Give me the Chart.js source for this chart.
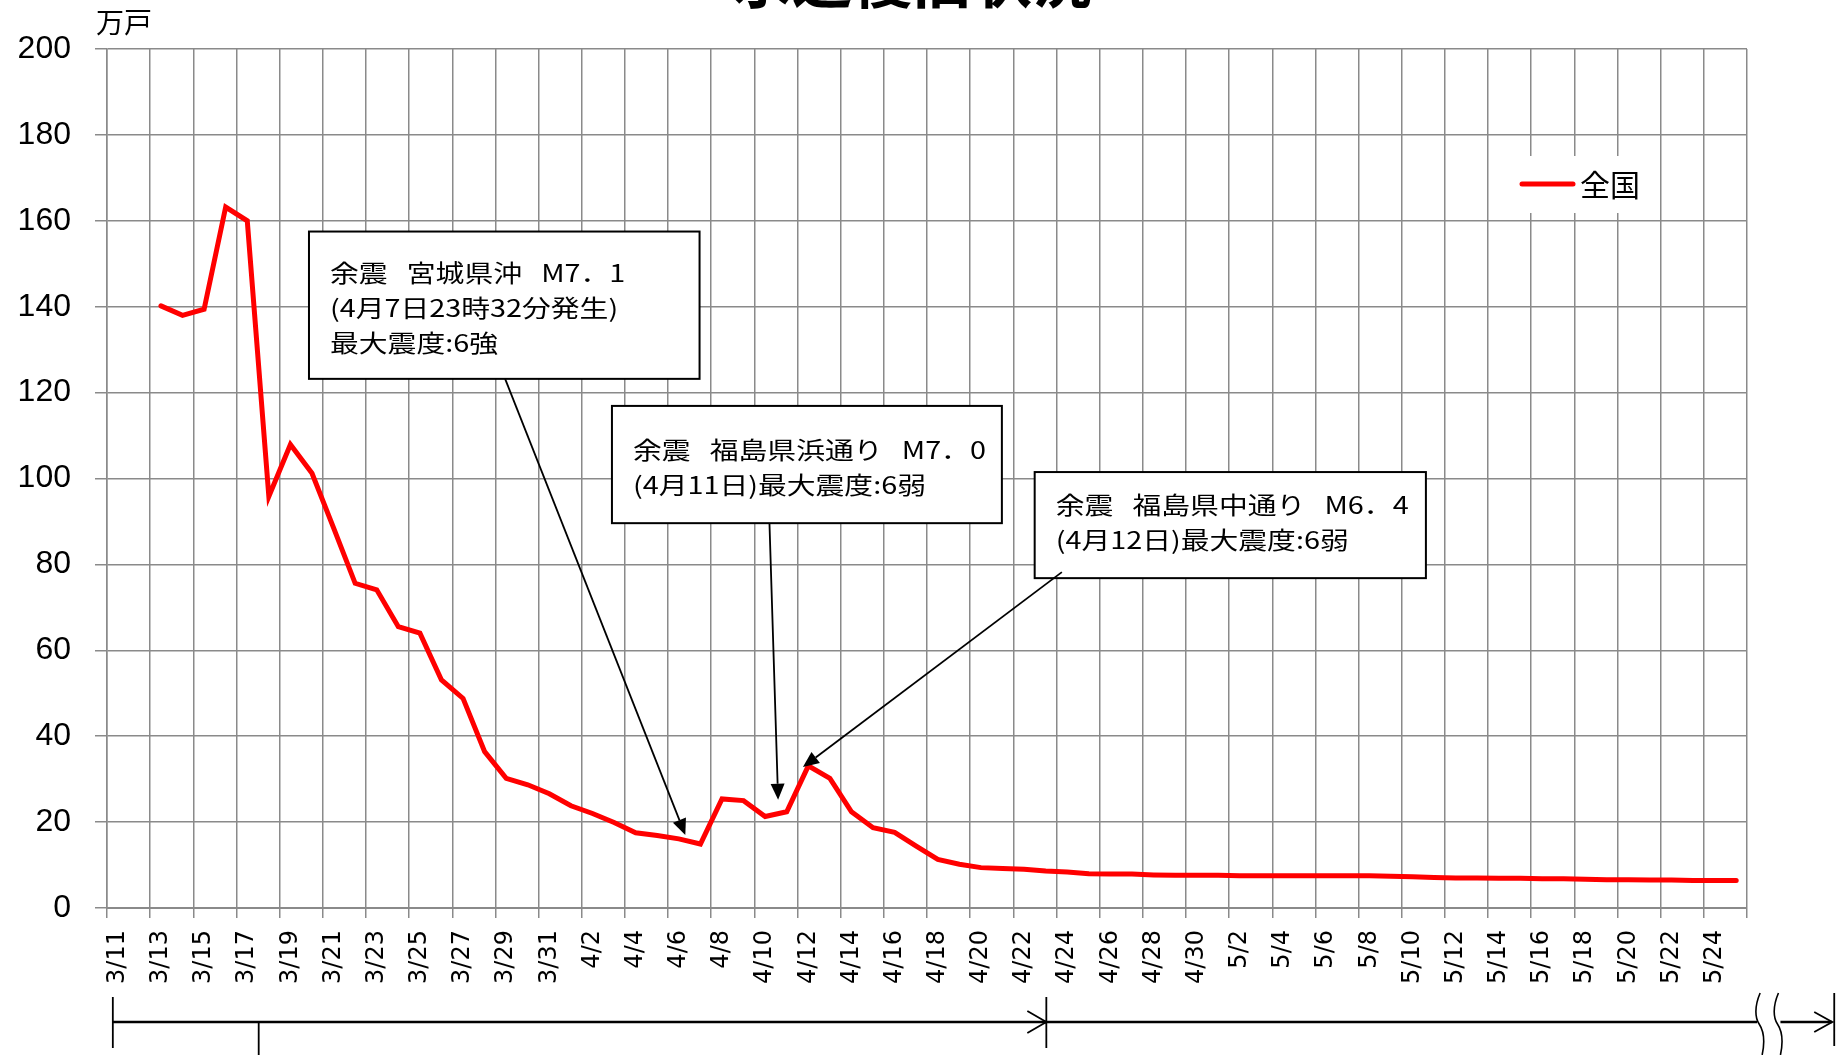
<!DOCTYPE html>
<html lang="ja">
<head>
<meta charset="utf-8">
<title>水道復旧状況</title>
<script src="https://cdn.jsdelivr.net/npm/chart.js@4/dist/chart.umd.min.js"></script>
<style>
  html, body { margin: 0; padding: 0; background: #ffffff; }
  #wrap { width: 1842px; height: 1055px; position: relative; }
</style>
</head>
<body>
<div id="wrap"><canvas id="chart" width="1842" height="1055"></canvas></div>
<script>
// ---- data ----
const titleText = '水道復旧状況';
const unitLabel = '万戸';
const seriesLabel = '全国';

const dates = [
  '3/11','3/12','3/13','3/14','3/15','3/16','3/17','3/18','3/19','3/20',
  '3/21','3/22','3/23','3/24','3/25','3/26','3/27','3/28','3/29','3/30','3/31',
  '4/1','4/2','4/3','4/4','4/5','4/6','4/7','4/8','4/9','4/10',
  '4/11','4/12','4/13','4/14','4/15','4/16','4/17','4/18','4/19','4/20',
  '4/21','4/22','4/23','4/24','4/25','4/26','4/27','4/28','4/29','4/30',
  '5/1','5/2','5/3','5/4','5/5','5/6','5/7','5/8','5/9','5/10',
  '5/11','5/12','5/13','5/14','5/15','5/16','5/17','5/18','5/19','5/20',
  '5/21','5/22','5/23','5/24','5/25'
];

// 断水戸数（万戸）
const households = [
  null, null, 140.2, 138.0, 139.4, 163.2, 160.0, 95.8, 107.9, 101.2,
  88.5, 75.6, 74.1, 65.5, 64.0, 53.1, 48.8, 36.4, 30.2, 28.7, 26.6,
  23.8, 22.0, 19.9, 17.5, 16.9, 16.1, 14.9, 25.4, 25.0, 21.3,
  22.4, 33.1, 30.2, 22.4, 18.7, 17.6, 14.4, 11.3, 10.2, 9.4,
  9.2, 9.0, 8.6, 8.4, 8.0, 7.9, 7.9, 7.7, 7.6, 7.6,
  7.6, 7.5, 7.5, 7.5, 7.5, 7.5, 7.5, 7.5, 7.4, 7.3,
  7.1, 7.0, 7.0, 6.9, 6.9, 6.8, 6.8, 6.7, 6.6, 6.6,
  6.5, 6.5, 6.4, 6.4, 6.4
];

const yMin = 0;
const yMax = 200;
const yStep = 20;

// 余震の注記テキスト（語の間は約2/3字分の空き）
const GAP = '\u2002\u2006';
const aftershockTexts = [
  ['余震' + GAP + '宮城県沖' + GAP + 'M7．1', '(4月7日23時32分発生)', '最大震度:6強'],
  ['余震' + GAP + '福島県浜通り' + GAP + 'M7．0', '(4月11日)最大震度:6弱'],
  ['余震' + GAP + '福島県中通り' + GAP + 'M6．4', '(4月12日)最大震度:6弱']
];

// ---- layout of the callouts, in axis units (category index, 万戸) ----
const calloutLayout = [
  { box: [8.86, 157.5, 26.96, 123.2], firstLine: 41, from: [17.95, 123.2], to: [26.3, 17.0] },
  { box: [22.9, 116.9, 40.97, 89.6], firstLine: 44, from: [30.2, 89.6], to: [30.6, 25.2] },
  { box: [42.49, 101.5, 60.62, 76.8], firstLine: 33, from: [43.75, 78.2], to: [31.75, 32.8] }
];

const GRID = '#8a8a8a';
const RED = '#ff0000';
const JP_FONT = '"Noto Sans CJK JP", "Noto Sans CJK SC", sans-serif';

function drawArrowLine(ctx, x1, y1, x2, y2) {
  const ang = Math.atan2(y2 - y1, x2 - x1);
  const headLen = 16, headHalf = 7;
  const bx = x2 - headLen * Math.cos(ang);
  const by = y2 - headLen * Math.sin(ang);
  ctx.beginPath();
  ctx.moveTo(x1, y1);
  ctx.lineTo(bx, by);
  ctx.strokeStyle = '#000';
  ctx.lineWidth = 1.8;
  ctx.stroke();
  ctx.beginPath();
  ctx.moveTo(x2, y2);
  ctx.lineTo(bx + headHalf * Math.sin(ang), by - headHalf * Math.cos(ang));
  ctx.lineTo(bx - headHalf * Math.sin(ang), by + headHalf * Math.cos(ang));
  ctx.closePath();
  ctx.fillStyle = '#000';
  ctx.fill();
}

function drawBreakCurve(ctx, x, top, bottom) {
  const mid = (top + bottom) / 2;
  ctx.beginPath();
  ctx.moveTo(x + 1, top);
  ctx.bezierCurveTo(x - 5, top + 14, x - 4, mid - 6, x, mid);
  ctx.bezierCurveTo(x + 4, mid + 6, x + 6, bottom - 14, x + 3, bottom);
  ctx.stroke();
}

const overlayPlugin = {
  id: 'overlay',
  afterDraw(chart) {
    const ctx = chart.ctx;
    const xs = chart.scales.x;
    const ys = chart.scales.y;
    const area = chart.chartArea;

    ctx.save();

    // title (top edge of the canvas)
    ctx.fillStyle = '#000';
    ctx.font = 'bold 60px ' + JP_FONT;
    ctx.textAlign = 'center';
    ctx.textBaseline = 'alphabetic';
    ctx.fillText(titleText, 912, 3);

    // unit label
    ctx.font = '28px ' + JP_FONT;
    ctx.textAlign = 'left';
    ctx.textBaseline = 'middle';
    ctx.fillText(unitLabel, area.left - 11, 22);

    // legend
    const ds = chart.data.datasets[0];
    ctx.fillStyle = '#fff';
    ctx.fillRect(1493, 156, 166, 57);
    ctx.beginPath();
    ctx.moveTo(1522, 184);
    ctx.lineTo(1573, 184);
    ctx.strokeStyle = ds.borderColor;
    ctx.lineWidth = 5;
    ctx.lineCap = 'round';
    ctx.stroke();
    ctx.lineCap = 'butt';
    ctx.fillStyle = '#000';
    ctx.font = '30px ' + JP_FONT;
    ctx.textBaseline = 'middle';
    ctx.fillText(ds.label, 1580, 185);

    // callouts
    calloutLayout.forEach((c, i) => {
      const l = xs.getPixelForValue(c.box[0]);
      const t = ys.getPixelForValue(c.box[1]);
      const r = xs.getPixelForValue(c.box[2]);
      const b = ys.getPixelForValue(c.box[3]);
      ctx.fillStyle = '#fff';
      ctx.fillRect(l, t, r - l, b - t);
      ctx.strokeStyle = '#000';
      ctx.lineWidth = 2;
      ctx.strokeRect(l, t, r - l, b - t);
      ctx.fillStyle = '#000';
      ctx.font = '24px ' + JP_FONT;
      ctx.textAlign = 'left';
      ctx.textBaseline = 'middle';
      aftershockTexts[i].forEach((line, k) => {
        ctx.save();
        ctx.translate(l + 21, t + c.firstLine + k * 35);
        ctx.scale(1.2, 1);
        ctx.fillText(line, 0, 0);
        ctx.restore();
      });
    });
    calloutLayout.forEach(c => {
      drawArrowLine(ctx,
        xs.getPixelForValue(c.from[0]), ys.getPixelForValue(c.from[1]),
        xs.getPixelForValue(c.to[0]), ys.getPixelForValue(c.to[1]));
    });

    // period brackets under the axis
    const base = area.bottom;
    const lineY = base + 114;
    const px = v => xs.getPixelForValue(v);
    const xStart = px(-0.23), xMid = px(6.53), xArrow = px(43.03);
    const xBreakA = px(75.97), xBreakB = px(77.05), xEnd = px(79.45);
    ctx.strokeStyle = '#000';
    ctx.lineWidth = 2.5;
    ctx.beginPath();
    ctx.moveTo(xStart, lineY); ctx.lineTo(xBreakA, lineY);
    ctx.moveTo(xBreakB, lineY); ctx.lineTo(xEnd, lineY);
    ctx.stroke();
    ctx.lineWidth = 1.8;
    ctx.beginPath();
    ctx.moveTo(xStart, base + 89); ctx.lineTo(xStart, base + 140);
    ctx.moveTo(xMid, lineY); ctx.lineTo(xMid, base + 147);
    ctx.moveTo(xArrow, base + 89); ctx.lineTo(xArrow, base + 140);
    ctx.moveTo(xEnd + 2, base + 85); ctx.lineTo(xEnd + 2, base + 138);
    // open arrowheads
    ctx.moveTo(xArrow - 19, lineY - 11); ctx.lineTo(xArrow, lineY); ctx.lineTo(xArrow - 19, lineY + 11);
    ctx.moveTo(xEnd - 18, lineY - 10); ctx.lineTo(xEnd, lineY); ctx.lineTo(xEnd - 18, lineY + 10);
    ctx.stroke();
    ctx.lineWidth = 1.6;
    drawBreakCurve(ctx, xBreakA + 2, base + 85, base + 147);
    drawBreakCurve(ctx, xBreakB - 3, base + 85, base + 147);

    ctx.restore();
  }
};

new Chart(document.getElementById('chart'), {
  type: 'line',
  data: {
    labels: dates,
    datasets: [{
      label: seriesLabel,
      data: households,
      borderColor: RED,
      backgroundColor: RED,
      borderWidth: 5,
      pointRadius: 0,
      tension: 0,
      borderCapStyle: 'round',
      borderJoinStyle: 'miter',
      spanGaps: false
    }]
  },
  options: {
    responsive: false,
    animation: false,
    layout: { padding: { top: 49, right: 95, bottom: 0, left: 0 } },
    plugins: {
      legend: { display: false },
      tooltip: { enabled: false },
      title: { display: false }
    },
    scales: {
      x: {
        type: 'category',
        offset: true,
        grid: {
          offset: true,
          lineWidth: 1.5,
          tickLength: 10,
          color: c => (c.index === undefined || c.index % 2 === 0) ? GRID : 'rgba(0,0,0,0)'
        },
        border: { color: GRID, width: 2 },
        ticks: {
          autoSkip: false,
          minRotation: 90,
          maxRotation: 90,
          padding: 12,
          color: '#000',
          font: { family: 'DejaVu Sans', size: 24 },
          callback(value, index) { return index % 2 === 0 ? this.getLabelForValue(value) : ''; }
        },
        afterFit(scale) { scale.height = 147; }
      },
      y: {
        min: yMin,
        max: yMax,
        grid: { color: GRID, lineWidth: 1.5, tickLength: 12 },
        border: { color: GRID, width: 1.5 },
        ticks: {
          stepSize: yStep,
          padding: 24,
          color: '#000',
          font: { family: 'Liberation Sans', size: 32 }
        },
        afterFit(scale) { scale.width = 107; }
      }
    }
  },
  plugins: [overlayPlugin]
});
</script>
</body>
</html>
